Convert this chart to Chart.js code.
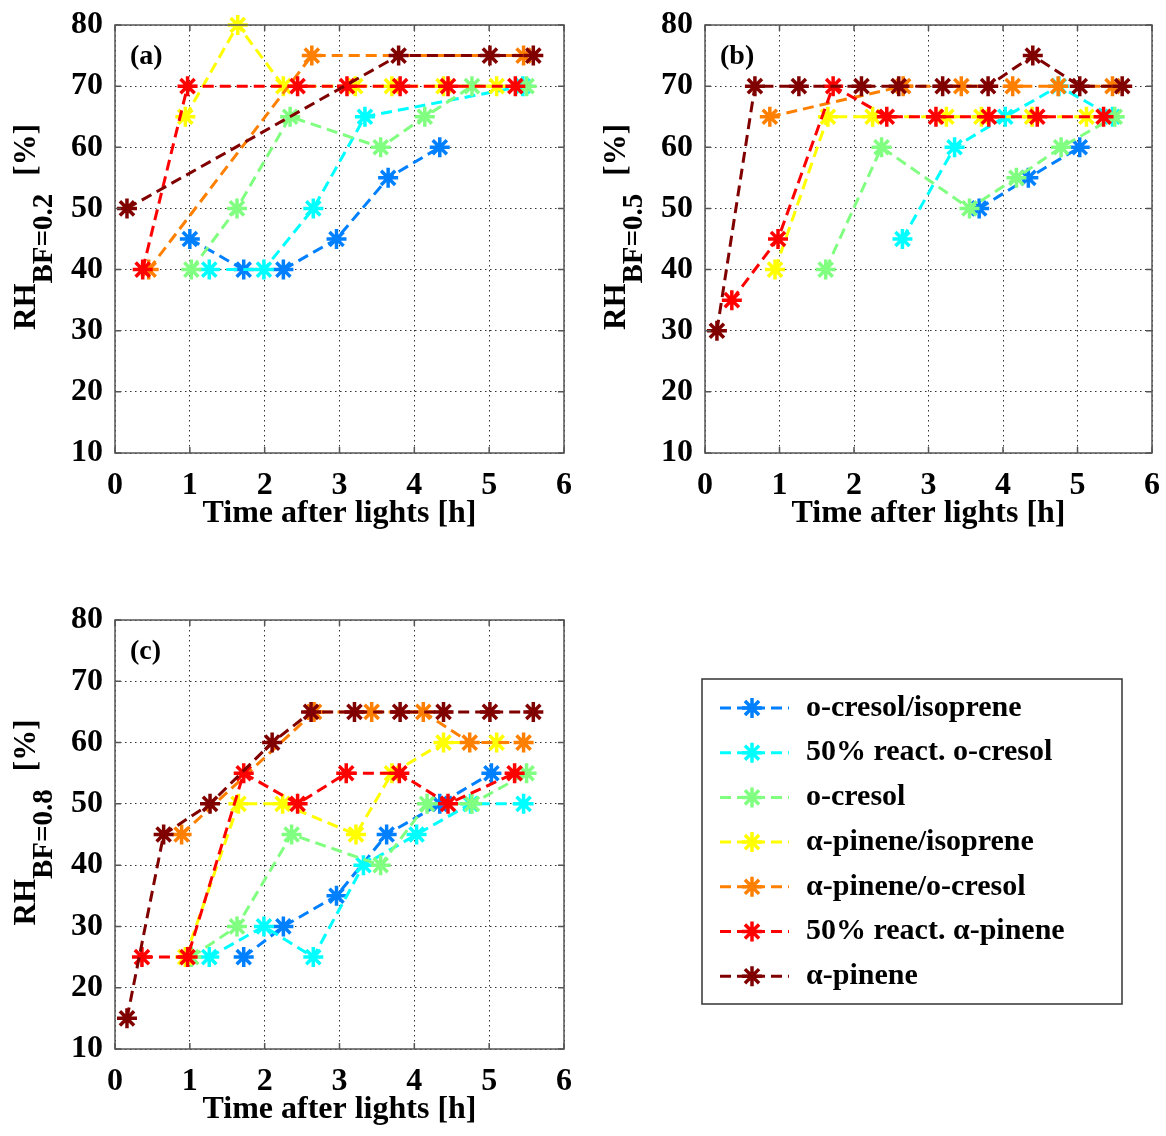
<!DOCTYPE html>
<html>
<head>
<meta charset="utf-8">
<script src="https://cdn.jsdelivr.net/npm/chart.js@4.4.1/dist/chart.umd.min.js"></script>
<style>
  body { margin: 0; background: #fff; overflow: hidden; }
  .panel { position: absolute; }
</style>
</head>
<body>
<canvas id="pa" class="panel" width="583" height="545" style="left:0;top:0"></canvas>
<canvas id="pb" class="panel" width="576" height="545" style="left:590px;top:0"></canvas>
<canvas id="pc" class="panel" width="1166" height="541" style="left:0;top:595px"></canvas>
<script>
const names = ['o-cresol/isoprene', '50% react. o-cresol', 'o-cresol', 'α-pinene/isoprene',
    'α-pinene/o-cresol', '50% react. α-pinene', 'α-pinene'];
const colors = ['#0080ff', '#00ffff', '#80ff80', '#ffff00', '#ff8000', '#ff0000', '#800000'];

const xTicks = [0, 1, 2, 3, 4, 5, 6];
const yTicks = [10, 20, 30, 40, 50, 60, 70, 80];

// panel (a) RH at BF=0.2
const timeA = [
    [1.0, 1.72, 2.25, 2.96, 3.65, 4.34],
    [1.26, 1.99, 2.65, 3.34, 5.45],
    [1.02, 1.63, 2.34, 3.55, 4.14, 4.77, 5.5],
    [0.94, 1.64, 2.25, 3.21, 3.7, 4.39, 5.1],
    [0.45, 2.63, 5.46],
    [0.37, 0.97, 2.44, 3.1, 3.81, 4.45, 5.35],
    [0.16, 3.79, 5.01, 5.59]
];
const rhA = [
    [45, 40, 40, 45, 55, 60],
    [40, 40, 50, 65, 70],
    [40, 50, 65, 60, 65, 70, 70],
    [65, 80, 70, 70, 70, 70, 70],
    [40, 75, 75],
    [40, 70, 70, 70, 70, 70, 70],
    [50, 75, 75, 75]
];

// panel (b) RH at BF=0.5
const timeB = [
    [3.68, 4.34, 5.03],
    [2.65, 3.35, 4.03, 4.75, 5.47],
    [1.62, 2.37, 3.55, 4.18, 4.78, 5.5],
    [0.94, 1.65, 2.25, 3.24, 3.71, 4.39, 5.12],
    [0.87, 2.66, 3.44, 4.13, 4.74, 5.47],
    [0.36, 0.98, 1.72, 2.44, 3.1, 3.81, 4.46, 5.35],
    [0.16, 0.67, 1.26, 2.1, 2.6, 3.19, 3.8, 4.4, 5.03, 5.6]
];
const rhB = [
    [50, 55, 60],
    [45, 60, 65, 70, 65],
    [40, 60, 50, 55, 60, 65],
    [40, 65, 65, 65, 65, 65, 65],
    [65, 70, 70, 70, 70, 70],
    [35, 45, 70, 65, 65, 65, 65, 65],
    [30, 70, 70, 70, 70, 70, 70, 75, 70, 70]
];

// panel (c) RH at BF=0.8
const timeC = [
    [1.72, 2.25, 2.96, 3.63, 4.34, 5.03],
    [1.26, 1.99, 2.65, 3.32, 4.03, 4.75, 5.46],
    [1.02, 1.63, 2.36, 3.55, 4.17, 4.77, 5.5],
    [0.94, 1.65, 2.24, 3.22, 3.7, 4.39, 5.1],
    [0.89, 2.66, 3.43, 4.12, 4.74, 5.46],
    [0.36, 0.97, 1.72, 2.44, 3.09, 3.8, 4.45, 5.34],
    [0.16, 0.65, 1.27, 2.1, 2.62, 3.2, 3.81, 4.39, 5.01, 5.59]
];
const rhC = [
    [25, 30, 35, 45, 50, 55],
    [25, 30, 25, 40, 45, 50, 50],
    [25, 30, 45, 40, 50, 50, 55],
    [25, 50, 50, 45, 55, 60, 60],
    [45, 65, 65, 65, 60, 60],
    [25, 25, 55, 50, 55, 55, 50, 55],
    [15, 45, 50, 60, 65, 65, 65, 65, 65, 65]
];

const FONT = '"Liberation Serif", "Times New Roman", serif';

function makeSets(times, values) {
    return names.map((name, i) => ({
        label: name,
        data: times[i].map((t, j) => ({x: t, y: values[i][j]})),
        borderColor: colors[i],
        backgroundColor: colors[i],
        borderWidth: 3,
        borderDash: [11, 6],
        pointStyle: 'star',
        pointRadius: 10,
        pointBorderWidth: 3.5,
        tension: 0,
        clip: false,
        order: names.length - 1 - i
    }));
}

// box, inward ticks, panel letter and axis titles
const frame = {
    id: 'frame',
    afterDraw(chart, args, opts) {
        const ctx = chart.ctx, a = chart.chartArea;
        const x = chart.scales.x, y = chart.scales.y;
        ctx.save();
        ctx.strokeStyle = '#555';
        ctx.lineWidth = 1.5;
        ctx.setLineDash([]);
        ctx.strokeRect(a.left, a.top, a.right - a.left, a.bottom - a.top);
        ctx.beginPath();
        xTicks.forEach(v => {
            const px = x.getPixelForValue(v);
            ctx.moveTo(px, a.bottom); ctx.lineTo(px, a.bottom - 6);
            ctx.moveTo(px, a.top); ctx.lineTo(px, a.top + 6);
        });
        yTicks.forEach(v => {
            const py = y.getPixelForValue(v);
            ctx.moveTo(a.left, py); ctx.lineTo(a.left + 6, py);
            ctx.moveTo(a.right, py); ctx.lineTo(a.right - 6, py);
        });
        ctx.stroke();

        ctx.fillStyle = '#000';
        ctx.font = 'bold 28px ' + FONT;
        ctx.textAlign = 'left';
        ctx.textBaseline = 'middle';
        ctx.fillText(opts.tag, a.left + 15, a.top + 32);

        ctx.font = 'bold 32px ' + FONT;
        ctx.textAlign = 'center';
        ctx.textBaseline = 'alphabetic';
        ctx.fillText('Time after lights [h]', (a.left + a.right) / 2, a.bottom + 69);

        // rotated y title with subscript
        const main = 'bold 31px ' + FONT, sub = 'bold 29px ' + FONT;
        ctx.font = main;
        const w1 = ctx.measureText('RH').width, w3 = ctx.measureText('[%]').width;
        ctx.font = sub;
        const w2 = ctx.measureText(opts.sub).width;
        const gap = 18;
        const total = w1 + w2 + gap + w3;
        ctx.translate(35, (a.top + a.bottom) / 2 - 12);
        ctx.rotate(-Math.PI / 2);
        ctx.textAlign = 'left';
        let p = -total / 2;
        ctx.font = main;
        ctx.fillText('RH', p, 0);
        p += w1;
        ctx.font = sub;
        ctx.fillText(opts.sub, p, 17);
        p += w2 + gap;
        ctx.font = main;
        ctx.fillText('[%]', p, 0);
        ctx.restore();
    }
};

// boxed legend to the right of panel (c)
const sideLegend = {
    id: 'sideLegend',
    afterDraw(chart, args, opts) {
        if (!opts.show) return;
        const ctx = chart.ctx, a = chart.chartArea;
        const left = a.right + 138, top = a.top + 59, w = 420, h = 325;
        ctx.save();
        ctx.fillStyle = '#fff';
        ctx.fillRect(left, top, w, h);
        ctx.strokeStyle = '#333';
        ctx.lineWidth = 1.5;
        ctx.strokeRect(left, top, w, h);
        chart.data.datasets.forEach((ds, i) => {
            const ry = top + 29 + i * 44.7;
            ctx.strokeStyle = ds.borderColor;
            ctx.lineWidth = 3;
            ctx.setLineDash([11, 6]);
            ctx.beginPath();
            ctx.moveTo(left + 18, ry);
            ctx.lineTo(left + 87, ry);
            ctx.stroke();
            ctx.setLineDash([]);
            ctx.lineWidth = 3.5;
            Chart.helpers.drawPoint(ctx, {pointStyle: 'star', radius: 10, rotation: 0, borderWidth: 3.5},
                left + 50, ry);
            ctx.fillStyle = '#000';
            ctx.font = 'bold 30px ' + FONT;
            ctx.textAlign = 'left';
            ctx.textBaseline = 'middle';
            ctx.fillText(ds.label, left + 104, ry);
        });
        ctx.restore();
    }
};

function panel(id, times, values, tag, sub, pad, xHeight, legend) {
    return new Chart(document.getElementById(id), {
        type: 'line',
        data: {datasets: makeSets(times, values)},
        plugins: [frame, sideLegend],
        options: {
            responsive: false,
            animation: false,
            devicePixelRatio: 1,
            events: [],
            layout: {padding: pad},
            plugins: {
                legend: {display: false},
                tooltip: {enabled: false},
                frame: {tag: tag, sub: sub},
                sideLegend: {show: legend}
            },
            scales: {
                x: {
                    type: 'linear', min: 0, max: 6,
                    afterFit: s => { s.height = xHeight; s.paddingLeft = 0; s.paddingRight = 0; },
                    afterBuildTicks: s => { s.ticks = xTicks.map(v => ({value: v})); },
                    ticks: {color: '#000', padding: 17, font: {family: FONT, size: 32, weight: 'bold', lineHeight: 1}},
                    grid: {color: '#333', lineWidth: 1, drawTicks: false},
                    border: {display: false, dash: [1.5, 3.5]}
                },
                y: {
                    type: 'linear', min: 10, max: 80,
                    afterFit: s => { s.width = 115; s.paddingTop = 0; s.paddingBottom = 0; },
                    afterBuildTicks: s => { s.ticks = yTicks.map(v => ({value: v})); },
                    ticks: {color: '#000', padding: 12, font: {family: FONT, size: 32, weight: 'bold', lineHeight: 1}},
                    grid: {color: '#333', lineWidth: 1, drawTicks: false},
                    border: {display: false, dash: [1.5, 3.5]}
                }
            }
        }
    });
}

panel('pa', timeA, rhA, '(a)', 'BF=0.2', {top: 25, right: 19, left: 0, bottom: 0}, 92, false);
panel('pb', timeB, rhB, '(b)', 'BF=0.5', {top: 25, right: 14, left: 0, bottom: 0}, 92, false);
panel('pc', timeC, rhC, '(c)', 'BF=0.8', {top: 25, right: 602, left: 0, bottom: 0}, 87, true);
</script>
</body>
</html>
